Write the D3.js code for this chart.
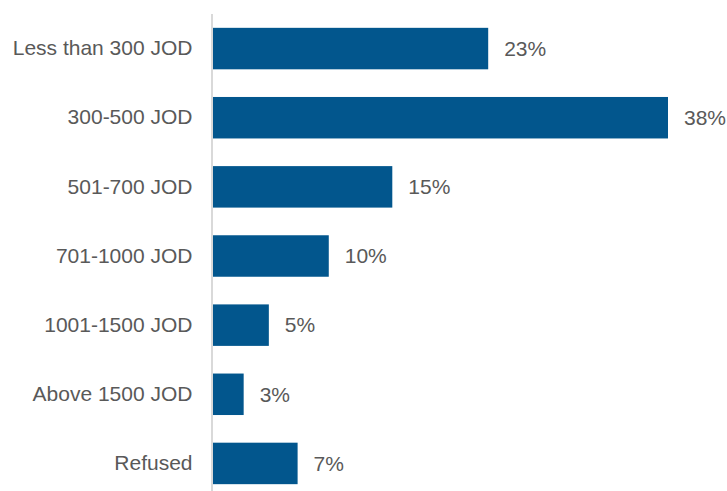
<!DOCTYPE html>
<html>
<head>
<meta charset="utf-8">
<script src="https://cdn.jsdelivr.net/npm/d3@7"></script>
<style>
  html, body { margin: 0; padding: 0; background: #fff; }
  svg text { font-family: "Liberation Sans", Arial, sans-serif; fill: #595959; }
</style>
</head>
<body>
<svg id="chart" width="727" height="491"></svg>
<script>
const categories = ["Less than 300 JOD", "300-500 JOD", "501-700 JOD", "701-1000 JOD", "1001-1500 JOD", "Above 1500 JOD", "Refused"];
const values = [23, 38, 15, 9.7, 4.7, 2.6, 7.1];
const valueLabels = ["23%", "38%", "15%", "10%", "5%", "3%", "7%"];

const width = 727, height = 491;
const margin = { left: 212.5, top: 14 };

const svg = d3.select("#chart");
const g = svg.append("g");

const x = d3.scaleLinear().domain([0, 38]).range([margin.left, 668]);
const y = d3.scaleBand().domain(categories).range([14, 498]).paddingInner(0.4).paddingOuter(0.2);

g.selectAll("rect.bar")
  .data(categories)
  .join("rect")
  .attr("class", "bar")
  .attr("x", x(0))
  .attr("y", d => y(d))
  .attr("width", (d, i) => x(values[i]) - x(0))
  .attr("height", y.bandwidth())
  .attr("fill", "#02568d");

g.selectAll("text.val")
  .data(categories)
  .join("text")
  .attr("class", "val")
  .attr("x", (d, i) => x(values[i]) + 16)
  .attr("y", d => y(d) + y.bandwidth() / 2)
  .attr("dy", "0.35em")
  .style("font-size", "21px")
  .text((d, i) => valueLabels[i]);

// category axis
const axis = g.append("g")
  .attr("transform", `translate(${margin.left},0)`)
  .call(d3.axisLeft(y).tickSize(0).tickPadding(20));
axis.select(".domain").remove();
axis.selectAll("text")
  .attr("fill", "#595959")
  .style("font-size", "21px")
  .style("font-family", "'Liberation Sans', Arial, sans-serif");

g.append("line")
  .attr("x1", margin.left - 0.5)
  .attr("x2", margin.left - 0.5)
  .attr("y1", margin.top)
  .attr("y2", height)
  .attr("stroke", "#d9d9d9")
  .attr("stroke-width", 2);
</script>
</body>
</html>
